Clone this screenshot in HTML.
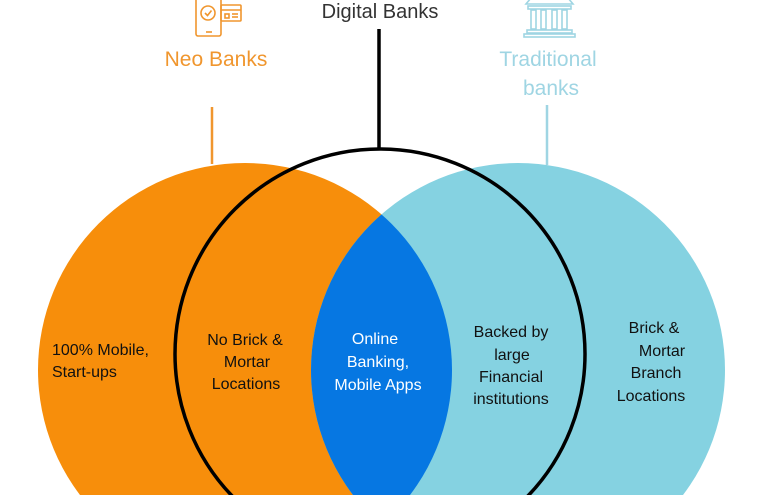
<!DOCTYPE html>
<html><head><meta charset="utf-8"><style>
html,body{margin:0;padding:0;background:#fff;width:765px;height:495px;overflow:hidden;}
svg{display:block;overflow:hidden;}
text{font-family:"Liberation Sans",sans-serif;}
</style></head><body>
<svg width="765" height="495" viewBox="0 0 765 495" xmlns="http://www.w3.org/2000/svg">
<defs>
<clipPath id="oc"><circle cx="245" cy="370" r="207"/></clipPath>
</defs>
<circle cx="245" cy="370" r="207" fill="#F78E0B"/>
<circle cx="518" cy="370" r="207" fill="#85D2E1"/>
<circle cx="518" cy="370" r="207" fill="#0677E2" clip-path="url(#oc)"/>
<circle cx="380" cy="354" r="205" fill="none" stroke="#000" stroke-width="3.5"/>
<line x1="379" y1="29" x2="379" y2="150" stroke="#000" stroke-width="3.5"/>
<line x1="212" y1="107" x2="212" y2="164" stroke="#F0962E" stroke-width="2.5"/>
<line x1="547" y1="105" x2="547" y2="165" stroke="#9FD5E3" stroke-width="2.5"/>
<g fill="none" stroke="#F0962E" stroke-width="1.6">
<rect x="196" y="-4" width="25" height="40" rx="2"/>
<line x1="206" y1="32" x2="212" y2="32"/>
<circle cx="208" cy="13" r="7"/>
<polyline points="205,13 207.5,15.5 211.5,10.5"/>
<rect x="221" y="5" width="20" height="16" rx="1"/>
<line x1="221" y1="10" x2="241" y2="10"/>
<line x1="232" y1="14" x2="238" y2="14"/>
<line x1="232" y1="17" x2="238" y2="17"/>
<rect x="225" y="14" width="4" height="4"/>
</g>
<g fill="none" stroke="#9FD5E3" stroke-width="1.6">
<path d="M526 4 L573 4 L568 -2 L531 -2 Z"/>
<rect x="528" y="6" width="43" height="3"/>
<rect x="531" y="10" width="5" height="19"/>
<rect x="541" y="10" width="5" height="19"/>
<rect x="552" y="10" width="5" height="19"/>
<rect x="562" y="10" width="5" height="19"/>
<rect x="527" y="30" width="45" height="3"/>
<rect x="524" y="34" width="51" height="3"/>
</g>
<text x="380" y="18" font-size="20" fill="#333" text-anchor="middle">Digital Banks</text>
<text x="216" y="66" font-size="21" fill="#F0962E" text-anchor="middle">Neo Banks</text>
<text x="548" y="66" font-size="21" fill="#9FD5E3" text-anchor="middle">Traditional</text>
<text x="551" y="95" font-size="21" fill="#9FD5E3" text-anchor="middle">banks</text>
<g font-size="16" fill="#111">
<text x="52" y="355">100% Mobile,</text>
<text x="52" y="377">Start-ups</text>
<g text-anchor="middle">
<text x="245" y="345">No Brick &amp;</text>
<text x="247" y="367">Mortar</text>
<text x="246" y="389">Locations</text>
<text x="511" y="337">Backed by</text>
<text x="512" y="360">large</text>
<text x="511" y="382">Financial</text>
<text x="511" y="404">institutions</text>
<text x="654" y="333">Brick &amp;</text>
<text x="662" y="356">Mortar</text>
<text x="656" y="378">Branch</text>
<text x="651" y="401">Locations</text>
</g>
</g>
<g font-size="16" fill="#fff" text-anchor="middle">
<text x="375" y="344">Online</text>
<text x="378" y="367">Banking,</text>
<text x="378" y="390">Mobile Apps</text>
</g>
</svg>
</body></html>
